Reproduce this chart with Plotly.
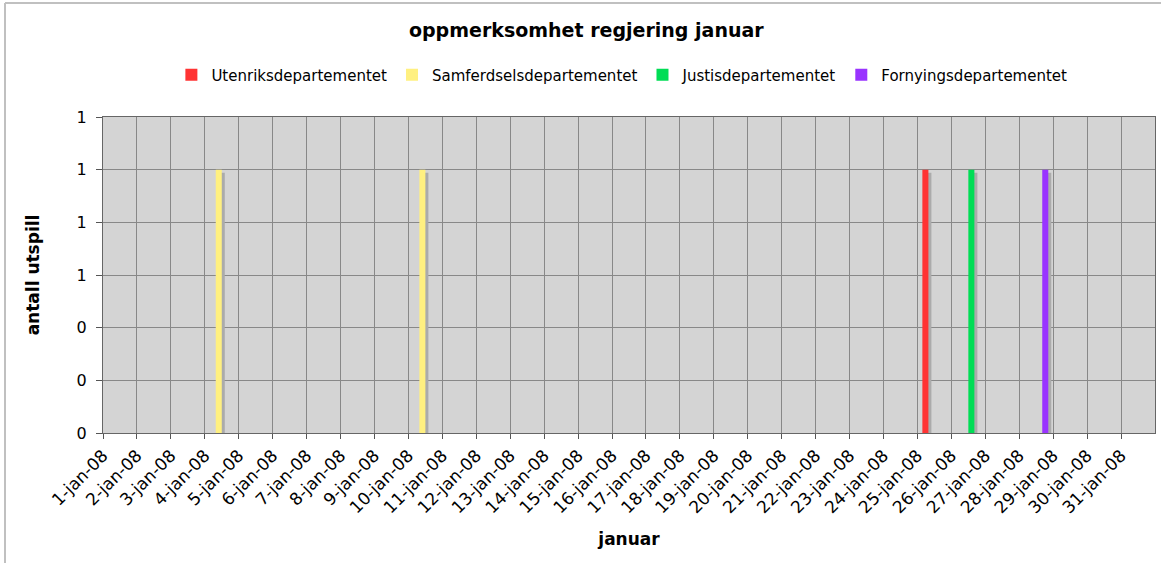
import plotly.graph_objects as go

# tick labels (one per day of January 2008)
day_dates = ["2008-01-%02d" % d for d in range(1, 32)]
day_labels = ["1-jan-08", "2-jan-08", "3-jan-08", "4-jan-08", "5-jan-08", "6-jan-08",
              "7-jan-08", "8-jan-08", "9-jan-08", "10-jan-08", "11-jan-08", "12-jan-08",
              "13-jan-08", "14-jan-08", "15-jan-08", "16-jan-08", "17-jan-08", "18-jan-08",
              "19-jan-08", "20-jan-08", "21-jan-08", "22-jan-08", "23-jan-08", "24-jan-08",
              "25-jan-08", "26-jan-08", "27-jan-08", "28-jan-08", "29-jan-08", "30-jan-08",
              "31-jan-08"]

series_names = ["Utenriksdepartementet", "Samferdselsdepartementet",
                "Justisdepartementet", "Fornyingsdepartementet"]
series_dates = [["2008-01-25"],
                ["2008-01-04", "2008-01-10"],
                ["2008-01-26"],
                ["2008-01-28"]]
series_values = [[1], [1, 1], [1], [1]]
series_colors = ["#ff3333", "#fff080", "#00dd55", "#9933ff"]

DAY = 86400000
N = len(series_names)
GROUP = 0.71 * DAY
BW = GROUP / N
PX = DAY / (1052 / 31)          # one pixel along x, in ms
PY = 0.2 / (316 / 6)            # one pixel along y, in data units

fig = go.Figure()
# drop shadows first (behind bars)
for i, (xs, ys) in enumerate(zip(series_dates, series_values)):
    fig.add_trace(go.Bar(
        x=xs, y=[v - 3 * PY for v in ys], base=0, showlegend=False, hoverinfo="skip",
        marker=dict(color="#ababab", line=dict(width=0)),
        xperiod=DAY, xperiodalignment="middle",
        offset=-GROUP / 2 + i * BW + 3 * PX, width=BW,
    ))
for i, (name, xs, ys, col) in enumerate(zip(series_names, series_dates, series_values, series_colors)):
    fig.add_trace(go.Bar(
        x=xs, y=ys, name=name, marker=dict(color=col, line=dict(width=0)),
        xperiod=DAY, xperiodalignment="middle",
        offset=-GROUP / 2 + i * BW, width=BW,
    ))

FONT = "DejaVu Sans"
fig.update_layout(
    width=1161, height=565, autosize=False,
    margin=dict(l=103, r=6, t=117, b=132),
    paper_bgcolor="white",
    plot_bgcolor="#d4d4d4",
    barmode="overlay",
    font=dict(family=FONT, size=16, color="black"),
    title=dict(text="<b>oppmerksomhet regjering januar</b>", x=0.505, xanchor="center",
               y=0.947, yanchor="middle", font=dict(family=FONT, size=19)),
    legend=dict(orientation="h", x=0.065, xanchor="left", y=1.133, yanchor="middle",
                font=dict(family=FONT, size=15), itemwidth=30, tracegroupgap=0,
                bgcolor="rgba(0,0,0,0)"),
    showlegend=True,
)
fig.update_xaxes(
    type="date", range=["2008-01-01", "2008-02-01"], automargin=False,
    tickvals=day_dates, ticktext=day_labels, tickangle=-45,
    ticks="outside", ticklen=5, tickcolor="#555",
    showgrid=True, gridcolor="#888888", gridwidth=1,
    showline=True, linecolor="#666666", mirror=True,
    title=dict(text="<b>januar</b>", font=dict(family=FONT, size=17), standoff=16),
    tickfont=dict(family=FONT, size=17),
)
fig.update_yaxes(
    range=[0, 1.2], dtick=0.2, tickformat=".0f", automargin=False,
    ticks="outside", ticklen=6, tickcolor="#555", ticklabelstandoff=6,
    showgrid=True, gridcolor="#888888", gridwidth=1,
    showline=True, linecolor="#666666", mirror=True, zeroline=False,
    title=dict(text="<b>antall utspill</b>", font=dict(family=FONT, size=17), standoff=32),
    tickfont=dict(family=FONT, size=16),
)
# outer chart border (left and top edges only are visible)
BORDER = dict(color="#c0c0c0", width=2)
fig.add_shape(type="line", xref="paper", yref="paper",
              x0=(5 - 103) / 1052, x1=(5 - 103) / 1052,
              y0=(433 - 563) / 316, y1=(433 - 3) / 316, line=BORDER, layer="below")
fig.add_shape(type="line", xref="paper", yref="paper",
              x0=(5 - 103) / 1052, x1=(1161 - 103) / 1052,
              y0=(433 - 3) / 316, y1=(433 - 3) / 316, line=BORDER, layer="below")

fig.write_html("out.html", config={"displayModeBar": False},
               post_script="document.body.style.margin='0';")
